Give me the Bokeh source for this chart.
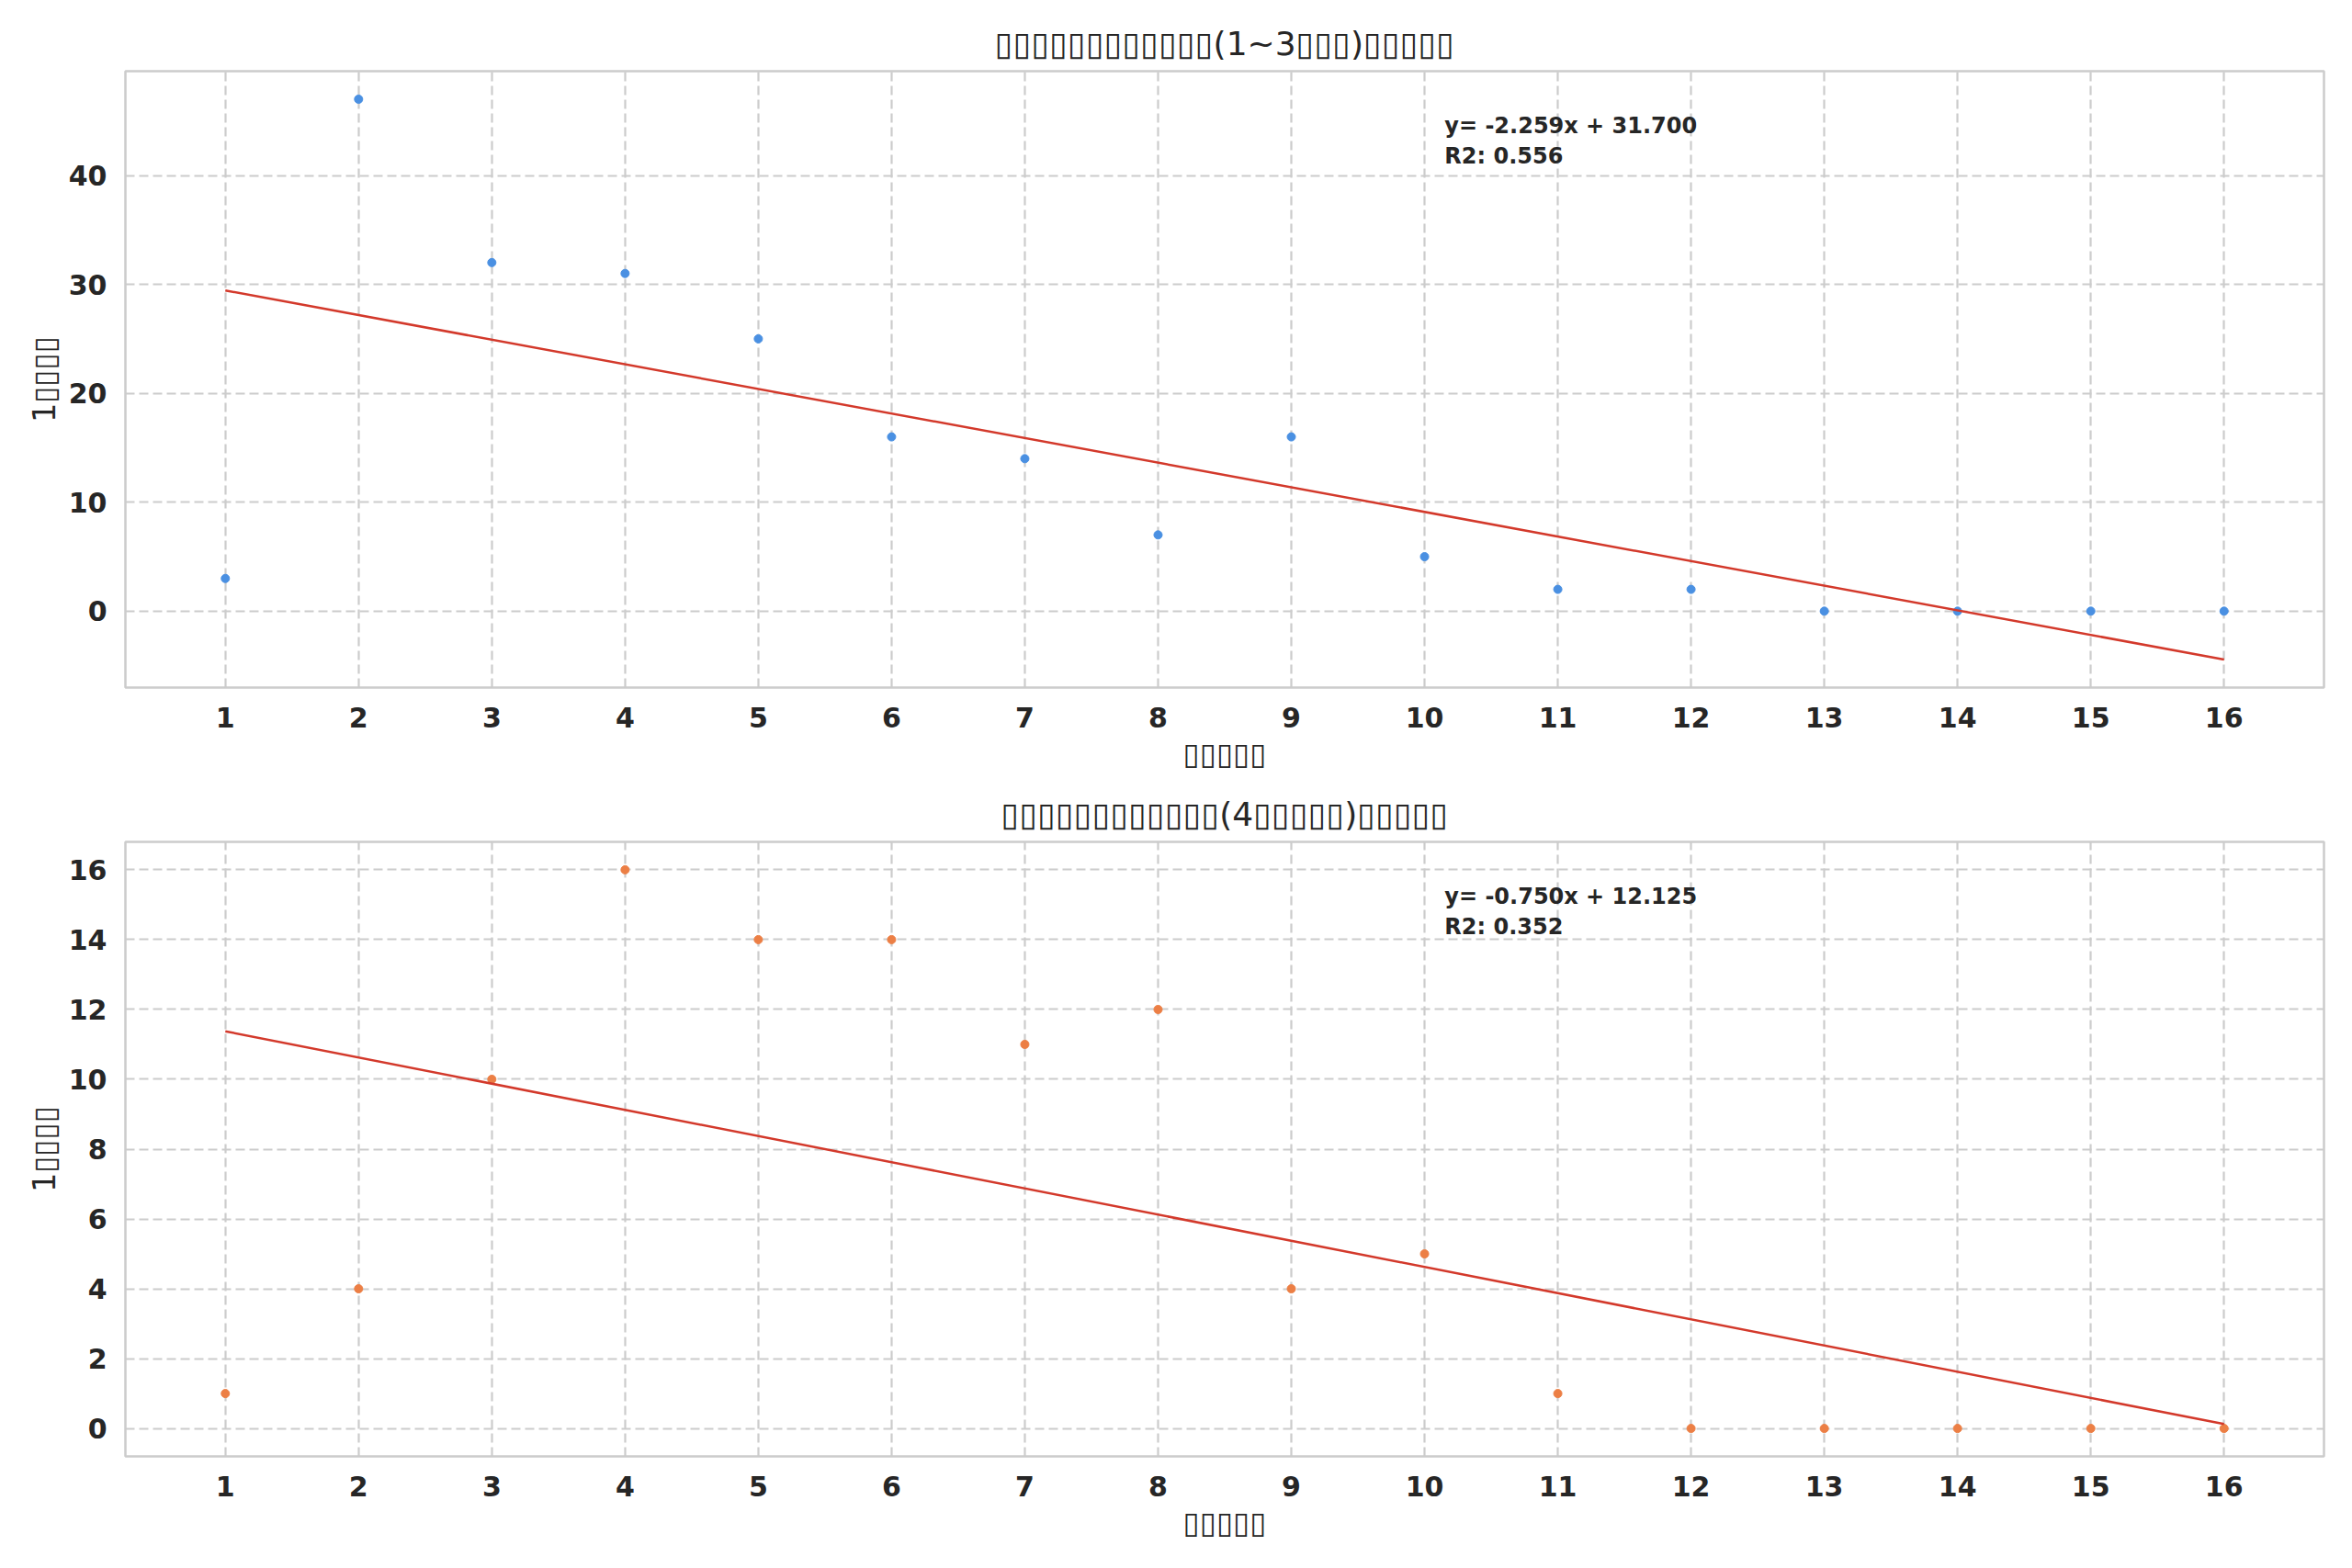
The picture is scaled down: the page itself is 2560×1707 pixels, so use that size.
import numpy as np
from bokeh.plotting import figure
from bokeh.models import Label, Range1d, FixedTicker
from bokeh.layouts import column
from bokeh.embed import file_html
from bokeh.resources import INLINE

# ---- data ----
weeks = list(range(1, 17))
counts_a = [3, 47, 32, 31, 25, 16, 14, 7, 16, 5, 2, 2, 0, 0, 0, 0]
counts_b = [1, 4, 10, 16, 14, 14, 11, 12, 4, 5, 1, 0, 0, 0, 0, 0]
yticks_a = [0, 10, 20, 30, 40]
yticks_b = [0, 2, 4, 6, 8, 10, 12, 14, 16]
B = "\u25af"
title_a = B * 12 + "(1~3" + B * 3 + ")" + B * 5
title_b = B * 12 + "(4" + B * 5 + ")" + B * 5
xlabel = B * 5
ylabel = "1" + B * 4
color_a = "#4a90e2"
color_b = "#ec7f45"
line_color = "#d3392b"

TEXT = "#262626"
FONT = "DejaVu Sans"


def make_plot(x, y, title, yticks, color, height, top, bottom):
    x = np.array(x, dtype=float)
    y = np.array(y, dtype=float)
    slope, intercept = np.polyfit(x, y, 1)
    pred = slope * x + intercept
    r2 = 1 - np.sum((y - pred) ** 2) / np.sum((y - y.mean()) ** 2)
    lx = np.array([x.min(), x.max()])
    ly = slope * lx + intercept

    xmin, xmax = x.min(), x.max()
    xpad = 0.05 * (xmax - xmin)
    ymin = min(y.min(), ly.min())
    ymax = max(y.max(), ly.max())
    ypad = 0.05 * (ymax - ymin)
    xr = Range1d(xmin - xpad, xmax + xpad)
    yr = Range1d(ymin - ypad, ymax + ypad)

    p = figure(width=2544, height=height, x_range=xr, y_range=yr,
               output_backend="svg", toolbar_location=None,
               min_border_left=136, min_border_right=15,
               min_border_top=top, min_border_bottom=bottom)
    p.title.text = title
    p.title.align = "center"
    p.title.text_font = FONT
    p.title.text_font_size = "36px"
    p.title.text_font_style = "normal"
    p.title.text_color = TEXT
    p.title.standoff = 19

    p.outline_line_color = "#cccccc"
    p.outline_line_width = 2.5
    p.background_fill_color = "white"

    p.xaxis.ticker = FixedTicker(ticks=list(x))
    p.yaxis.ticker = FixedTicker(ticks=yticks)
    for ax in (p.xaxis[0], p.yaxis[0]):
        ax.axis_line_color = None
        ax.major_tick_line_color = None
        ax.minor_tick_line_color = None
        ax.major_tick_out = 0
        ax.major_tick_in = 0
        ax.major_label_text_font = FONT
        ax.major_label_text_font_size = "30px"
        ax.major_label_text_font_style = "bold"
        ax.major_label_text_color = TEXT
        ax.axis_label_text_font = FONT
        ax.axis_label_text_font_size = "33px"
        ax.axis_label_text_font_style = "normal"
        ax.axis_label_text_color = TEXT
    p.xaxis.axis_label = xlabel
    p.yaxis.axis_label = ylabel
    p.xaxis.major_label_standoff = 21
    p.xaxis.axis_label_standoff = 6
    p.yaxis.major_label_standoff = 20
    p.yaxis.axis_label_standoff = 4

    for g in (p.xgrid[0], p.ygrid[0]):
        g.grid_line_color = "#cccccc"
        g.grid_line_width = 2.2
        g.grid_line_dash = "10 5"
    p.xgrid.ticker = FixedTicker(ticks=list(x))
    p.ygrid.ticker = FixedTicker(ticks=yticks)

    p.scatter(x, y, size=9, color=color, line_color=color)
    p.line(lx, ly, line_color=line_color, line_width=2.5)

    ax_x = xr.start + 0.6 * (xr.end - xr.start)
    ax_y = yr.end - 0.05 * (yr.end - yr.start)
    eq = "y= %.3fx + %.3f" % (slope, intercept)
    r2s = "R2: %.3f" % r2
    for txt, off in ((eq, -12), (r2s, -45)):
        p.add_layout(Label(x=ax_x, y=ax_y, y_offset=off, text=txt,
                           text_font=FONT, text_font_size="24px",
                           text_font_style="bold", text_color=TEXT,
                           text_baseline="top", text_align="left"))
    return p


p1 = make_plot(weeks, counts_a, title_a, yticks_a, color_a, 842, 77, 94)
p2 = make_plot(weeks, counts_b, title_b, yticks_b, color_b, 849, 74, 106)
layout = column(p1, p2, spacing=0)

open("out.html", "w").write(file_html(layout, INLINE))
